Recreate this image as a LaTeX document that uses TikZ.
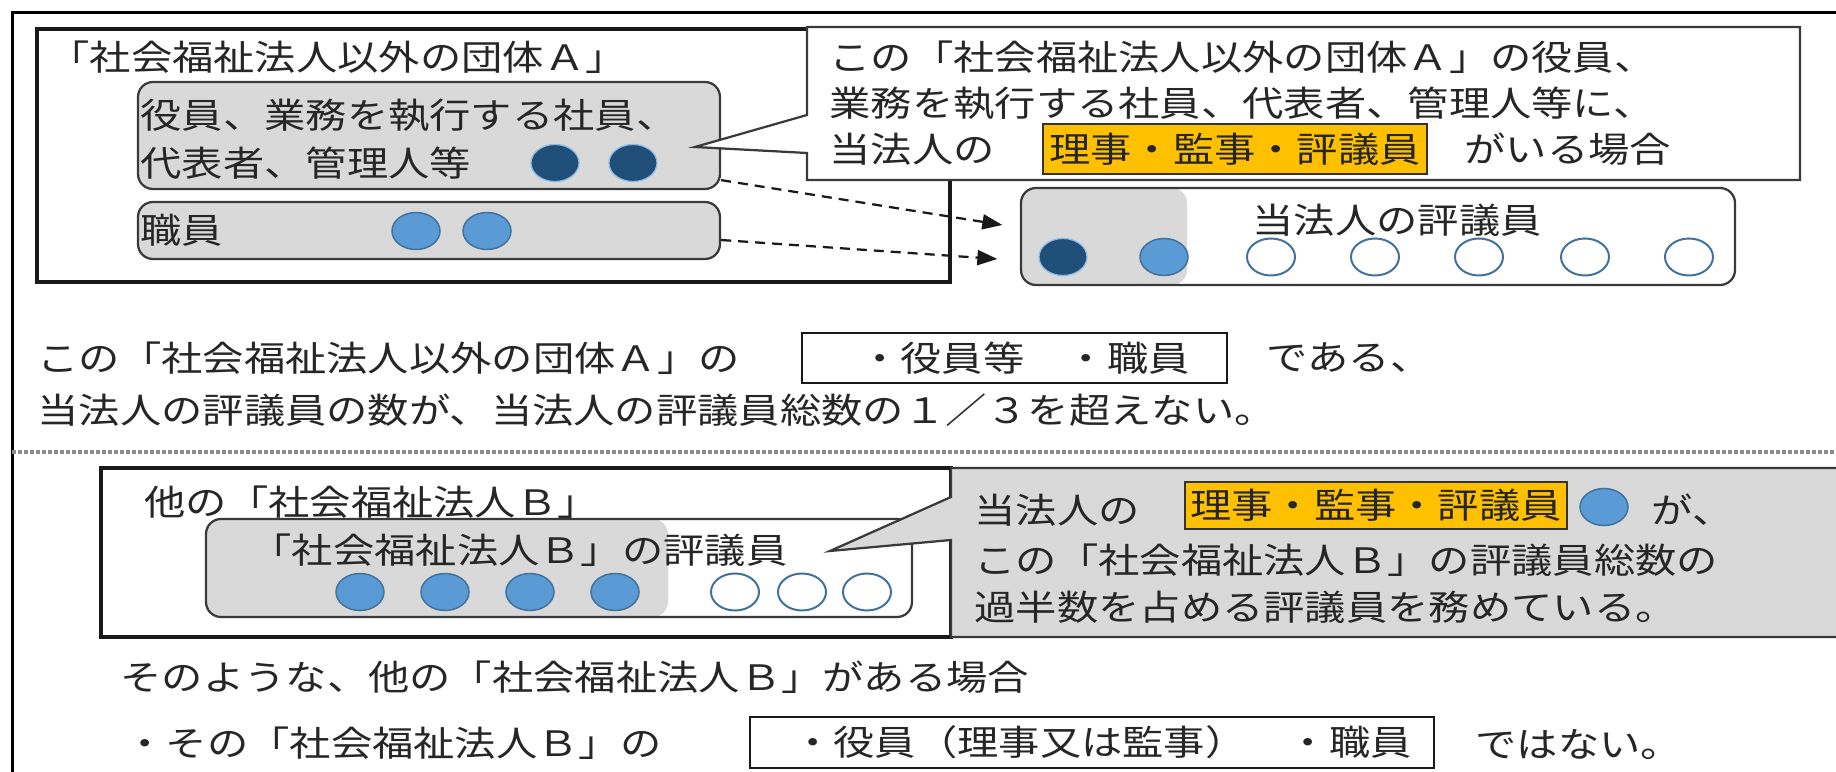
\documentclass[tikz,border=0pt]{standalone}
\usepackage{fontspec}
\newfontfamily\jp{Noto Sans CJK JP}[FakeStretch=1.18]
\usetikzlibrary{fit,arrows.meta,shapes.geometric}
\definecolor{boxgray}{HTML}{D9D9D9}
\definecolor{edge}{HTML}{3A3A3A}
\definecolor{darkblue}{HTML}{1F4E79}
\definecolor{lightblue}{HTML}{5B9BD5}
\definecolor{ringblue}{HTML}{41719C}
\definecolor{hilite}{HTML}{FFC000}
\begin{document}
\begin{tikzpicture}[x=0.4pt,y=-0.4pt,
  every node/.style={inner sep=0pt},
  txt/.style={anchor=west, font=\jp\fontsize{14}{16}\selectfont, text=black!85},
  ctxt/.style={font=\jp\fontsize{14}{16}\selectfont, text=black!85},
  thickbox/.style={draw=black!90, line width=1.6pt},
  rbox/.style={draw=edge, line width=0.9pt, rounded corners=6pt, fill=boxgray},
  callout/.style={draw=edge, line width=0.9pt},
  hl/.style={draw=black!80, line width=0.8pt, fill=hilite},
  framebox/.style={draw=black!90, line width=0.9pt},
  ell/.style={ellipse, minimum width=19.2pt, minimum height=14.8pt, inner sep=0pt},
  dkc/.style={ell, fill=darkblue, draw=lightblue!70, line width=0.5pt},
  ltc/.style={ell, fill=lightblue, draw=ringblue, line width=0.6pt},
  wtc/.style={ell, fill=white, draw=ringblue, line width=0.8pt},
  dasharrow/.style={draw=black!90, line width=0.9pt, dash pattern=on 4pt off 2.8pt,
    -{Triangle[length=8pt,width=6pt]}}
]
\useasboundingbox (0,0) rectangle (1836,772);
\fill[white] (0,0) rectangle (1836,772);

% outer frame (cut on right and bottom)
\draw[black, line width=1.2pt] (12,772) -- (12,13) -- (1836,13);

% ---------- upper part ----------
\node[fit={(37,29) (950,282)}, thickbox] (boxA) {};
\node[txt] (titleA) at (48,57) {「社会福祉法人以外の団体Ａ」};

\node[fit={(138,82) (720,189)}, rbox] (box1) {};
\node[txt] (b1l1) at (140,115) {役員、業務を執行する社員、};
\node[txt] (b1l2) at (140,163) {代表者、管理人等};
\node[dkc] (d1) at (555,163) {};
\node[dkc] (d2) at (633,163) {};

\node[fit={(138,202) (720,259)}, rbox] (box2) {};
\node[txt] (b2l1) at (140,230) {職員};
\node[ltc] (l1) at (416,231) {};
\node[ltc] (l2) at (487,231) {};

% board of councillors
\node[fit={(1021,188) (1735,285)}, draw=edge, line width=0.9pt, rounded corners=6pt, fill=white,
  path picture={\fill[boxgray] (path picture bounding box.north west) rectangle
     ([xshift=66.4pt]path picture bounding box.south west);}] (board) {};
\node[txt] (boardt) at (1252,220) {当法人の評議員};
\node[dkc] (e1) at (1063,257) {};
\node[ltc] (e2) at (1164,257) {};
\node[wtc] (e3) at (1271,257) {};
\node[wtc] (e4) at (1375,257) {};
\node[wtc] (e5) at (1479,257) {};
\node[wtc] (e6) at (1585,257) {};
\node[wtc] (e7) at (1689,257) {};

% dashed arrows
\coordinate (t1) at ([xshift=-7pt,yshift=4.6pt]board.west);
\coordinate (t2) at ([xshift=-9pt,yshift=-9pt]board.west);
\draw[dasharrow] ([yshift=4pt]box1.south east) -- (t1);
\draw[dasharrow] ([yshift=-3.8pt]box2.east) -- (t2);

% callout A
\filldraw[callout, fill=white] (807,27) -- (1800,27) -- (1800,180) -- (807,180) -- (807,153)
  -- (695,147) -- (807,115) -- cycle;
\node[txt] (ca1) at (829,57) {この「社会福祉法人以外の団体Ａ」の役員、};
\node[txt] (ca2) at (829,103) {業務を執行する社員、代表者、管理人等に、};
\node[txt] (ca3) at (829,149) {当法人の};
\node[fit={(1043,124) (1427,174)}, hl] (hlA) {};
\node[ctxt] at (hlA.center) {理事・監事・評議員};
\node[txt] (ca4) at (1464,149) {がいる場合};

% middle text
\node[txt] (m1) at (37,358) {この「社会福祉法人以外の団体Ａ」の};
\node[fit={(802,333) (1227,383)}, framebox] (mbox) {};
\node[ctxt] at ([xshift=4pt]mbox.center) {・役員等　・職員};
\node[txt] (m2) at (1266,358) {である、};
\node[txt] (m3) at (37,410) {当法人の評議員の数が、当法人の評議員総数の１／３を超えない。};

% separator
\draw[black!45, line width=1.3pt, dash pattern=on 1.6pt off 0.8pt] (12,452) -- (1836,452);

% ---------- lower part ----------
\node[fit={(101,468) (951,637)}, thickbox] (boxB) {};
\node[txt] (titleB) at (144,502) {他の「社会福祉法人Ｂ」};

\node[fit={(206,519) (912,617)}, draw=edge, line width=0.9pt, rounded corners=6pt, fill=white,
  path picture={\fill[boxgray] (path picture bounding box.north west) rectangle
     ([xshift=184.8pt]path picture bounding box.south west);}] (boxBi) {};
\node[txt] (bit) at (250,550) {「社会福祉法人Ｂ」の評議員};
\node[ltc] (f1) at (360,592) {};
\node[ltc] (f2) at (445,592) {};
\node[ltc] (f3) at (530,592) {};
\node[ltc] (f4) at (615,592) {};
\node[wtc] (f5) at (735,592) {};
\node[wtc] (f6) at (802,592) {};
\node[wtc] (f7) at (867,592) {};

% callout B
\filldraw[callout, fill=boxgray] (951,468) -- (1840,468) -- (1840,637) -- (951,637) -- (951,540)
  -- (830,551) -- (951,497) -- cycle;
\node[txt] (cb1) at (974,510) {当法人の};
\node[fit={(1185,482) (1567,529)}, hl] (hlB) {};
\node[ctxt] at (hlB.center) {理事・監事・評議員};
\node[ltc] (cbc) at (1604,507) {};
\node[txt] (cb2) at (1651,510) {が、};
\node[txt] (cb3) at (974,560) {この「社会福祉法人Ｂ」の評議員総数の};
\node[txt] (cb4) at (974,607) {過半数を占める評議員を務めている。};

% bottom text
\node[txt] (n1) at (120,677) {そのような、他の「社会福祉法人Ｂ」がある場合};
\node[txt] (n2) at (124,743) {・その「社会福祉法人Ｂ」の};
\node[fit={(750,717) (1434,768)}, framebox] (nbox) {};
\node[ctxt] at ([xshift=4pt]nbox.center) {・役員（理事又は監事）　・職員};
\node[txt] (n3) at (1475,745) {ではない。};
\end{tikzpicture}
\end{document}
